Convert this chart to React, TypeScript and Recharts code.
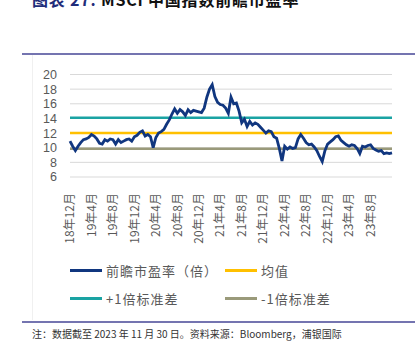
import React from 'react';
import { LineChart, Line, XAxis, YAxis, CartesianGrid, ReferenceLine } from 'recharts';

// x-axis labels, one every 4 months starting Dec 2018
const tickLabels = [
  '18年12月', '19年4月', '19年8月', '19年12月', '20年4月', '20年8月', '20年12月',
  '21年4月', '21年8月', '21年12月', '22年4月', '22年8月', '22年12月', '23年4月', '23年8月',
];

// forward P/E at half-month steps (Dec 2018 -> Nov 2023)
const forwardPE = [
  10.9, 10.2, 9.6, 10.2, 10.7, 11.1, 11.2, 11.4, 11.8, 11.6,
  11.2, 10.6, 10.5, 11.1, 10.9, 11.2, 11.1, 10.5, 11.1, 10.7,
  10.9, 11.1, 11.2, 10.9, 11.5, 11.7, 12.1, 12.3, 11.6, 11.8,
  11.5, 10.0, 11.4, 12.0, 12.2, 12.5, 13.2, 13.8, 14.6, 15.3,
  14.7, 15.2, 14.9, 14.4, 15.2, 14.8, 15.1, 15.0, 14.9, 14.8,
  15.4, 16.9, 18.0, 18.6, 17.0, 16.2, 15.9, 15.8, 15.4, 14.7,
  16.9, 16.0, 16.1, 15.0, 13.4, 13.9, 12.9, 13.6, 13.1, 13.4,
  13.2, 12.8, 12.4, 12.0, 12.3, 12.2, 11.5, 11.3, 9.9, 8.2,
  10.2, 9.8, 10.1, 9.9, 10.0, 11.2, 11.8, 11.3, 10.7, 10.4,
  10.5, 10.1, 9.6, 8.8, 8.1, 9.6, 10.5, 10.8, 11.1, 11.5,
  11.6, 11.0, 10.7, 10.4, 10.2, 10.4, 10.3, 9.9, 9.2, 10.2,
  10.1, 10.3, 10.4, 9.9, 9.7, 9.5, 9.6, 9.2, 9.3, 9.2,
  9.3,
];

const meanPE = 12.0;
const plusOneSd = 14.1;
const minusOneSd = 9.85;

const yTicks = [6, 8, 10, 12, 14, 16, 18, 20];

const data = forwardPE.map((v, i) => ({ m: i / 2, pe: v }));

const C = {
  pe: '#10367F',
  mean: '#FFC000',
  plus: '#1AA3A3',
  minus: '#9A9A7A',
  text: '#595959',
  rule: '#7474B0',
};

const cjk = '"Noto Sans CJK SC", "Noto Sans", sans-serif';

const XTick = (props: any) => {
  const { x, y, payload } = props;
  return (
    <text
      x={0}
      y={0}
      transform={`translate(${x},${y}) rotate(-90)`}
      textAnchor="end"
      dy="0.35em"
      fill={C.text}
      fontSize={12}
      fontFamily={cjk}
    >
      {tickLabels[Math.round(payload.value / 4)]}
    </text>
  );
};

const legendItems = [
  { label: '前瞻市盈率（倍）', color: C.pe, left: 70, top: 270 },
  { label: '均值', color: C.mean, left: 225, top: 270 },
  { label: '+1倍标准差', color: C.plus, left: 70, top: 298 },
  { label: '-1倍标准差', color: C.minus, left: 225, top: 298 },
];

export default function App() {
  return (
    <div style={{ position: 'absolute', left: 0, top: 0, width: 415, height: 351, background: '#fff', overflow: 'hidden', fontFamily: cjk }}>
      <div style={{ position: 'absolute', left: 32, top: -11, fontSize: 16, lineHeight: '20px', fontWeight: 700, letterSpacing: 0.8, whiteSpace: 'nowrap' }}>
        <span style={{ color: '#1F2D7A' }}>图表 27:</span>
        <span style={{ color: '#111' }}> MSCI 中国指数前瞻市盈率</span>
      </div>
      <div style={{ position: 'absolute', left: 22, top: 53, width: 393, height: 2, background: C.rule }} />
      <div style={{ position: 'absolute', left: 32, top: 55, width: 1, height: 265, background: '#f0f0f0' }} />

      <div style={{ position: 'absolute', left: 0, top: 60 }}>
        <LineChart width={415} height={200} data={data} margin={{ top: 14.5, right: 23, bottom: 0, left: 0 }}>
          <CartesianGrid horizontal vertical={false} stroke="#d9d9d9" />
          <XAxis
            type="number"
            dataKey="m"
            domain={[0, 60]}
            ticks={tickLabels.map((_, i) => i * 4)}
            tick={<XTick />}
            axisLine={false}
            tickLine={false}
            tickSize={0}
            tickMargin={16}
            height={83}
            interval={0}
          />
          <YAxis
            type="number"
            domain={[6, 20]}
            ticks={yTicks}
            axisLine={false}
            tickLine={false}
            tickSize={0}
            tickMargin={13}
            width={70}
            interval={0}
            tick={{ fill: C.text, fontSize: 12.5, fontFamily: '"Liberation Sans", Arial, sans-serif' }}
          />
          <ReferenceLine y={plusOneSd} stroke={C.plus} strokeWidth={2.5} />
          <ReferenceLine y={meanPE} stroke={C.mean} strokeWidth={2.5} />
          <ReferenceLine y={minusOneSd} stroke={C.minus} strokeWidth={2.5} />
          <Line
            type="linear"
            dataKey="pe"
            stroke={C.pe}
            strokeWidth={2.8}
            dot={false}
            isAnimationActive={false}
          />
        </LineChart>
      </div>

      {legendItems.map((it) => (
        <div key={it.label} style={{ position: 'absolute', left: it.left, top: it.top - 9, height: 18, display: 'flex', alignItems: 'center', whiteSpace: 'nowrap' }}>
          <div style={{ width: 32, height: 3, background: it.color, marginRight: 4 }} />
          <span style={{ fontSize: 13, letterSpacing: 1, color: C.text }}>{it.label}</span>
        </div>
      ))}

      <div style={{ position: 'absolute', left: 22, top: 321, width: 393, height: 2, background: C.rule }} />
      <div style={{ position: 'absolute', left: 32, top: 327, fontSize: 10, lineHeight: '14px', color: '#333', whiteSpace: 'nowrap' }}>
        注：数据截至 2023 年 11 月 30 日。资料来源：Bloomberg，浦银国际
      </div>
    </div>
  );
}
